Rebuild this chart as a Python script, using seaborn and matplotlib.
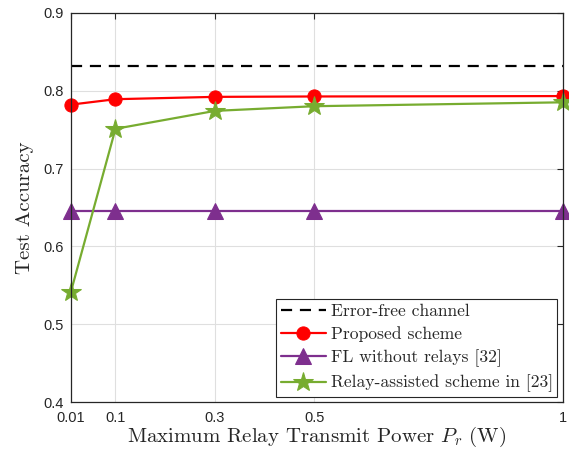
import numpy as np
import pandas as pd
import matplotlib
matplotlib.use('Agg')
import matplotlib.pyplot as plt
import seaborn as sns

# Values
power = [0.01, 0.1, 0.3, 0.5, 1]
power_labels = ['0.01', '0.1', '0.3', '0.5', '1']
error_free = 0.832
proposed = [0.782, 0.789, 0.792, 0.7925, 0.793]
fl_no_relay = [0.645, 0.645, 0.645, 0.645, 0.645]
relay_assisted = [0.541, 0.751, 0.774, 0.780, 0.785]
y_ticks = [0.4, 0.5, 0.6, 0.7, 0.8, 0.9]

sns.set_style('white')
plt.rcParams['font.family'] = ['Liberation Sans', 'DejaVu Sans']
plt.rcParams['axes.formatter.use_mathtext'] = True
plt.rcParams['mathtext.fontset'] = 'cm'

fig = plt.figure(figsize=(5.69, 4.49), dpi=100)
ax = fig.add_axes([0.1243, 0.104, 0.8652, 0.8677])

red = '#FF0000'
purple = '#7E2F8E'
green = '#77AC30'

sns.lineplot(x=power, y=[error_free] * len(power), ax=ax, color='black',
             linewidth=1.6, dashes=False, label='Error-free channel')
ax.lines[-1].set_dashes((5, 3.5))
sns.lineplot(x=power, y=proposed, ax=ax, color=red, linewidth=1.6,
             marker='o', markersize=9.5, markeredgecolor=red,
             label='Proposed scheme', clip_on=False)
sns.lineplot(x=power, y=fl_no_relay, ax=ax, color=purple, linewidth=1.6,
             marker='^', markersize=11, markeredgecolor=purple,
             label='FL without relays [32]', clip_on=False)
sns.lineplot(x=power, y=relay_assisted, ax=ax, color=green, linewidth=1.6,
             marker='*', markersize=15, markeredgecolor=green,
             label='Relay-assisted scheme in [23]', clip_on=False)

ax.set_xlim(0.01, 1)
ax.set_ylim(0.4, 0.9)
ax.set_xticks(power)
ax.set_xticklabels(power_labels)
ax.set_yticks(y_ticks)
ax.set_yticklabels([f'{v:.1f}' for v in y_ticks])
ax.grid(True, color='#DFDFDF', linewidth=0.8)
ax.set_axisbelow(True)
for s in ax.spines.values():
    s.set_color('#262626')
    s.set_linewidth(0.9)
ax.tick_params(direction='in', length=4, width=0.8, top=True, right=True,
               labelsize=10.5, labelcolor='#262626', color='#262626', pad=5)
ax.tick_params(axis='x', pad=6)

ax.set_xlabel(r'Maximum Relay Transmit Power $P_r$ (W)', fontsize=15,
              family='cmr10', color='#262626', labelpad=0)
ax.set_ylabel('Test Accuracy', fontsize=15, family='cmr10', color='#262626',
              labelpad=7)

leg = ax.legend(loc='lower right', bbox_to_anchor=(0.988, 0.014),
                borderaxespad=0, frameon=True, fancybox=False,
                prop={'family': 'cmr10', 'size': 12.6}, handlelength=2.6,
                handletextpad=0.25, labelspacing=0.42, borderpad=0.25)
leg.get_frame().set_edgecolor('#262626')
leg.get_frame().set_linewidth(0.8)
leg.get_frame().set_alpha(1)

fig.savefig('out.png', dpi=100)
